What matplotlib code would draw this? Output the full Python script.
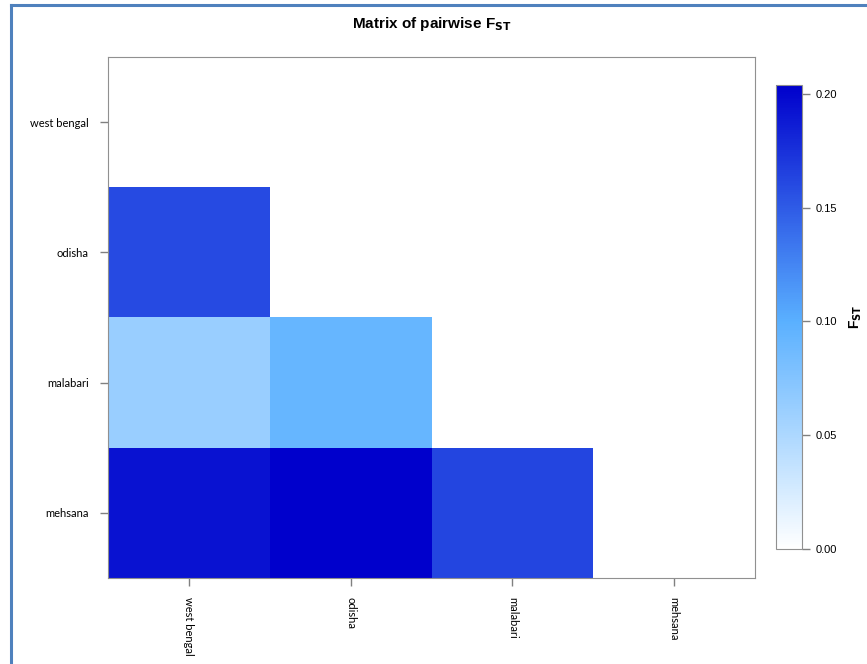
import numpy as np
import matplotlib
matplotlib.use("Agg")
import matplotlib.pyplot as plt
from matplotlib.colors import LinearSegmentedColormap
from matplotlib.lines import Line2D

POPS = ["west bengal", "odisha", "malabari", "mehsana"]
# lower triangle of pairwise FST (row pop vs column pop), NaN = not drawn
FST = np.array([
    [np.nan, np.nan, np.nan, np.nan],
    [0.160, np.nan, np.nan, np.nan],
    [0.062, 0.093, np.nan, np.nan],
    [0.193, 0.204, 0.163, np.nan],
])
CBAR_TICKS = [0.00, 0.05, 0.10, 0.15, 0.20]
VMAX = 0.204

cmap = LinearSegmentedColormap.from_list(
    "fst", [(0.0, "#ffffff"), (0.49, "#5ab0ff"), (1.0, "#0000cc")])

fig = plt.figure(figsize=(8.67, 6.64), dpi=100)
ax = fig.add_axes([0.1246, 0.1295, 0.7462, 0.7847])
cax = fig.add_axes([0.895, 0.1732, 0.030, 0.699])

n = len(POPS)
mesh = ax.pcolormesh(np.arange(n + 1), np.arange(n + 1), np.ma.masked_invalid(FST),
                     cmap=cmap, vmin=0, vmax=VMAX)
ax.set_xlim(0, n); ax.set_ylim(n, 0)
ax.set_xticks(np.arange(n) + 0.5)
ax.set_yticks(np.arange(n) + 0.5)
ax.set_xticklabels(POPS, rotation=270, fontsize=8, family="Lato", va="top", ha="center")
ax.set_yticklabels(POPS, fontsize=8, family="Lato")
ax.tick_params(colors="#808080", labelcolor="black", length=6, width=1, pad=8)
for sp in ax.spines.values():
    sp.set_color("#909090")

ax.set_title("Matrix of pairwise F$_{\\mathbf{ST}}$", fontsize=11, fontweight="bold",
             family="Liberation Sans", pad=21)

cb = fig.colorbar(mesh, cax=cax, ticks=CBAR_TICKS)
cb.ax.set_yticklabels([f"{t:.2f}" for t in CBAR_TICKS], fontsize=8, family="Liberation Sans")
cb.ax.tick_params(colors="#808080", labelcolor="black", length=6, width=1, pad=4)
cb.outline.set_edgecolor("#909090")
cb.ax.set_ylabel("F$_{\\mathbf{ST}}$", fontsize=10, fontweight="bold",
                 family="Liberation Sans", rotation=90)
cb.ax.yaxis.set_label_coords(2.75, 0.5)

# slide frame
fig.add_artist(Line2D([11 / 867, 11 / 867], [0, 1 - 5 / 664], color="#4f81bd", lw=2.2,
                      transform=fig.transFigure))
fig.add_artist(Line2D([11 / 867, 1], [1 - 5 / 664, 1 - 5 / 664], color="#4f81bd", lw=2.2,
                      transform=fig.transFigure))

fig.savefig("out.png", dpi=100)
